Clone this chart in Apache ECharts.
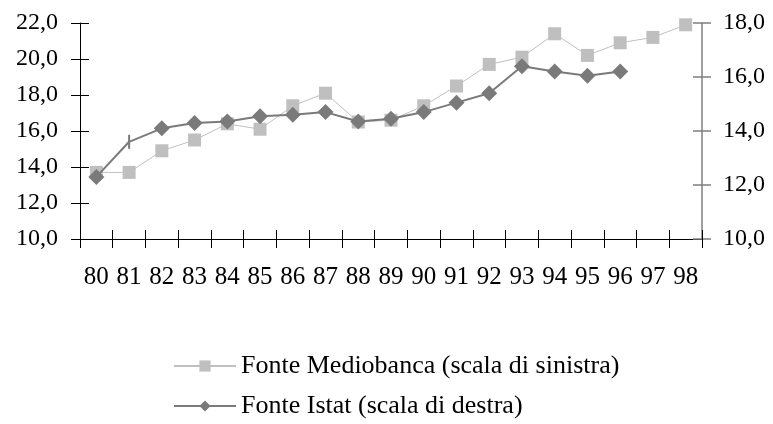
<!DOCTYPE html>
<html>
<head>
<meta charset="utf-8">
<script src="https://cdn.jsdelivr.net/npm/echarts@6/dist/echarts.min.js"></script>
<style>html,body{margin:0;padding:0;background:#fff}#c{width:773px;height:424px}</style>
</head>
<body>
<div id="c"></div>
<script>
var categories = ['80','81','82','83','84','85','86','87','88','89','90','91','92','93','94','95','96','97','98'];
var mediobanca = [13.7,13.7,14.9,15.5,16.4,16.1,17.4,18.1,16.5,16.6,17.4,18.5,19.7,20.1,21.4,20.2,20.9,21.2,21.9];
var istat = [12.3,13.6,14.1,14.3,14.35,14.55,14.6,14.7,14.35,14.45,14.7,15.05,15.4,16.4,16.2,16.05,16.2,null,null];
var seriesNames = ['Fonte Mediobanca (scala di sinistra)','Fonte Istat (scala di destra)'];

var FONT = 'Liberation Serif';
function fmt(v){ return v.toFixed(1).replace('.', ','); }

var istatData = istat.map(function(v, i){
  if (i === 1) return {value: v, symbol: 'rect', symbolSize: [2, 14]};
  return v;
});

var chart = echarts.init(document.getElementById('c'), null, {renderer:'canvas'});
chart.setOption({
  animation: false,
  backgroundColor: '#fff',
  textStyle: {fontFamily: FONT},
  grid: {left: 80, right: 71, top: 23, bottom: 185, containLabel: false},
  legend: {
    orient: 'vertical', left: 168, top: 348, itemWidth: 62, itemHeight: 14, itemGap: 14,
    textStyle: {fontFamily: FONT, fontSize: 26, color: '#000'},
    data: seriesNames
  },
  xAxis: [
    {type: 'category', data: categories, position: 'bottom', boundaryGap: true,
     axisLine: {lineStyle: {color: '#000', width: 1}},
     axisTick: {show: true, inside: false, length: 9, interval: 0, alignWithLabel: false, lineStyle: {color: '#000'}},
     axisLabel: {interval: 0, fontFamily: FONT, fontSize: 25, color: '#000', margin: 26},
     splitLine: {show: false}},
    {type: 'category', data: categories, position: 'bottom', boundaryGap: true,
     axisLine: {show: false},
     axisTick: {show: true, inside: true, length: 9, interval: 0, lineStyle: {color: '#000'}},
     axisLabel: {show: false}, splitLine: {show: false}}
  ],
  yAxis: [
    {type: 'value', position: 'left', min: 10, max: 22, interval: 2,
     axisLine: {show: true, lineStyle: {color: '#000', width: 1}},
     axisTick: {show: true, inside: false, length: 9, lineStyle: {color: '#000'}},
     axisLabel: {formatter: fmt, fontFamily: FONT, fontSize: 24, color: '#000', margin: 22},
     splitLine: {show: false}},
    {type: 'value', position: 'right', min: 10, max: 18, interval: 2,
     axisLine: {show: true, lineStyle: {color: '#7f7f7f', width: 1.5}},
     axisTick: {show: true, inside: false, length: 9, lineStyle: {color: '#7f7f7f', width: 1.5}},
     axisLabel: {formatter: fmt, fontFamily: FONT, fontSize: 24, color: '#000', margin: 21},
     splitLine: {show: false}},
    {type: 'value', position: 'left', min: 10, max: 22, interval: 2,
     axisLine: {show: false},
     axisTick: {show: true, inside: true, length: 9, lineStyle: {color: '#000'}},
     axisLabel: {show: false}, splitLine: {show: false}},
    {type: 'value', position: 'right', min: 10, max: 18, interval: 2,
     axisLine: {show: false},
     axisTick: {show: true, inside: true, length: 9, lineStyle: {color: '#7f7f7f', width: 1.5}},
     axisLabel: {show: false}, splitLine: {show: false}}
  ],
  series: [
    {name: seriesNames[0], type: 'line', xAxisIndex: 0, yAxisIndex: 0, data: mediobanca,
     symbol: 'rect', symbolSize: 13, showAllSymbol: true,
     lineStyle: {color: '#c0c0c0', width: 1}, itemStyle: {color: '#bfbfbf'}, z: 2},
    {name: seriesNames[1], type: 'line', xAxisIndex: 0, yAxisIndex: 1, data: istatData,
     symbol: 'diamond', symbolSize: 16, showAllSymbol: true, connectNulls: false,
     lineStyle: {color: '#7a7a7a', width: 2}, itemStyle: {color: '#7a7a7a'}, z: 3}
  ]
});
</script>
</body>
</html>
